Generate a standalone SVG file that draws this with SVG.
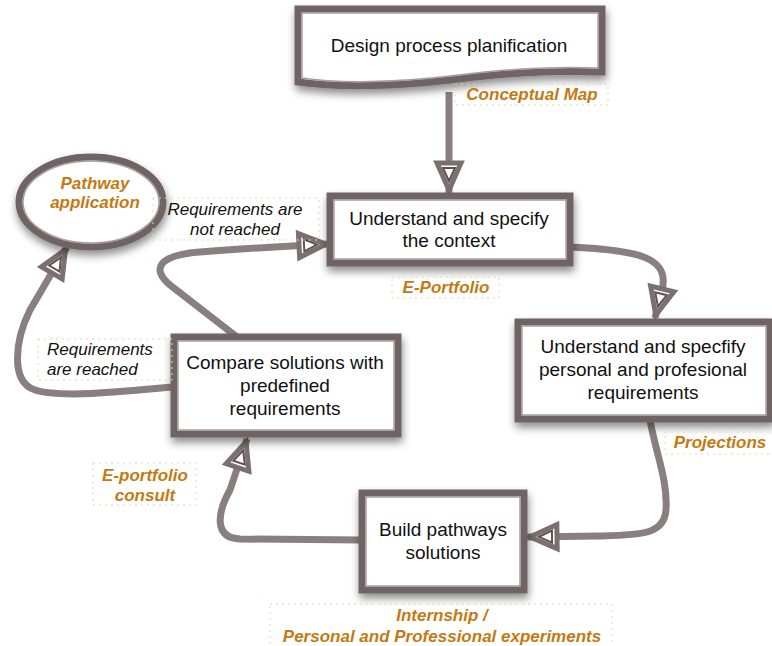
<svg xmlns="http://www.w3.org/2000/svg" width="772" height="646" viewBox="0 0 772 646">
<style>
.frame{fill:#ffffff;stroke:#6f6363;stroke-width:7;filter:url(#sh)}
.inner{fill:none;stroke:#a89e9e;stroke-width:1.5}
.t{font-family:"Liberation Sans",Arial,sans-serif;font-size:19px;fill:#111111;text-anchor:middle}
.o{font-family:"Liberation Sans",Arial,sans-serif;font-size:17px;font-weight:bold;font-style:italic;fill:#c47a12;text-anchor:middle}
.k{font-family:"Liberation Sans",Arial,sans-serif;font-size:17px;font-style:italic;fill:#111111}
.dot{fill:none;stroke:#d6dbb0;stroke-width:1;stroke-dasharray:2 4}
.c{fill:none;stroke:#8a7f7f;stroke-width:7;stroke-linecap:butt;stroke-linejoin:round;marker-end:url(#ah)}
</style>
<defs>
<filter id="sh" x="-20%" y="-20%" width="140%" height="150%">
<feDropShadow dx="1" dy="5" stdDeviation="4" flood-color="#000000" flood-opacity="0.45"/>
</filter>
<marker id="ah" markerUnits="userSpaceOnUse" markerWidth="40" markerHeight="34" viewBox="0 0 40 34" refX="36" refY="17" orient="auto">
<polygon points="6,5 33,17 6,29" fill="#ffffff" stroke="#7b6f6f" stroke-width="5" stroke-linejoin="miter"/>
<polygon points="11,11 24,17 11,23" fill="none" stroke="#5e5252" stroke-width="2"/>
</marker>
</defs>

<g id="connectors">
<path class="c" d="M449,92 V193"/>
<path class="c" d="M570,247 C640,250 670,258 662,290 L655,318"/>
<path class="c" d="M650,420 C655,450 668,480 666,510 C664,535 640,535 600,536 L527,537"/>
<path class="c" d="M362,540 L240,539 C215,538 216,515 230,490 L247,439"/>
<path class="c" d="M172,387 C120,392 60,398 35,390 C10,382 15,340 30,310 L67,247"/>
<path class="c" d="M237,337 L170,285 C150,268 160,255 200,252 C250,248 290,246 329,244"/>
</g>

<g id="design">
<path class="frame" d="M298,9 H602 V72 C540,70 500,74 450,80 C400,86 340,88 298,82 Z"/>
<path class="inner" d="M302,13 H598 V68 C540,66 500,70 450,76 C400,82 340,84 302,78 Z"/>
<text class="t" x="449" y="52">Design process planification</text>
</g>

<g id="context">
<rect class="frame" x="330" y="196" width="240" height="67"/>
<rect class="inner" x="334" y="200" width="232" height="59"/>
<text class="t" x="449" y="225">Understand and specify</text>
<text class="t" x="449" y="247">the context</text>
</g>

<g id="personal">
<rect class="frame" x="518" y="322" width="252" height="97"/>
<rect class="inner" x="522" y="326" width="244" height="89"/>
<text class="t" x="643" y="353">Understand and specfify</text>
<text class="t" x="643" y="376">personal and profesional</text>
<text class="t" x="643" y="399">requirements</text>
</g>

<g id="compare">
<rect class="frame" x="174" y="337" width="224" height="97"/>
<rect class="inner" x="178" y="341" width="216" height="89"/>
<text class="t" x="285" y="369">Compare solutions with</text>
<text class="t" x="285" y="392">predefined</text>
<text class="t" x="285" y="415">requirements</text>
</g>

<g id="build">
<rect class="frame" x="362" y="493" width="162" height="97"/>
<rect class="inner" x="366" y="497" width="154" height="89"/>
<text class="t" x="443" y="536">Build pathways</text>
<text class="t" x="443" y="559">solutions</text>
</g>

<g id="pathway">
<ellipse class="frame" cx="91" cy="202" rx="72" ry="45"/>
<ellipse class="inner" cx="91" cy="202" rx="68" ry="41"/>
<text class="o" x="95" y="189">Pathway</text>
<text class="o" x="95" y="208">application</text>
</g>

<g id="labels">
<rect class="dot" x="455" y="84" width="153" height="21"/>
<text class="o" x="532" y="100">Conceptual Map</text>
<rect class="dot" x="392" y="277" width="107" height="21"/>
<text class="o" x="446" y="293">E-Portfolio</text>
<rect class="dot" x="665" y="432" width="110" height="22"/>
<text class="o" x="720" y="448">Projections</text>
<rect class="dot" x="93" y="463" width="103" height="42"/>
<text class="o" x="145" y="481">E-portfolio</text>
<text class="o" x="145" y="501">consult</text>
<rect class="dot" x="270" y="604" width="342" height="44"/>
<text class="o" x="442" y="621">Internship /</text>
<text class="o" x="442" y="642">Personal and Professional experiments</text>
<rect class="dot" x="153" y="198" width="166" height="42"/>
<text class="k" x="235" y="215" text-anchor="middle">Requirements are</text>
<text class="k" x="235" y="235" text-anchor="middle">not reached</text>
<rect class="dot" x="38" y="339" width="134" height="41"/>
<text class="k" x="47" y="355">Requirements</text>
<text class="k" x="47" y="375">are reached</text>
</g>
</svg>
